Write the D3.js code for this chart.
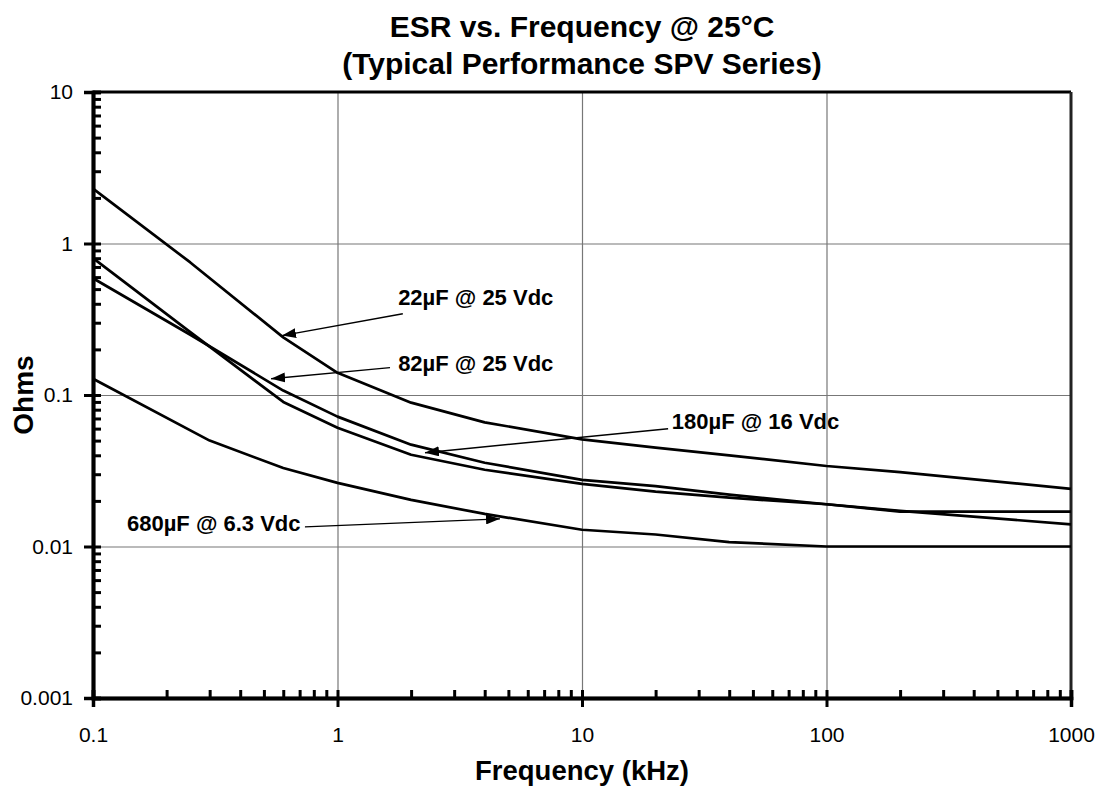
<!DOCTYPE html>
<html>
<head>
<meta charset="utf-8">
<script src="https://cdn.jsdelivr.net/npm/d3@7"></script>
<style>
  body { margin: 0; background: #fff; }
  text { font-family: "Liberation Sans", Arial, sans-serif; }
</style>
</head>
<body>
<script>
// frequency points (kHz)
var freqs = [0.1, 0.25, 0.6, 1, 2, 4, 10, 20, 40, 100, 200, 1000];
var esr22 = [2.3, 0.75, 0.24, 0.14, 0.089, 0.066, 0.051, 0.045, 0.040, 0.034, 0.031, 0.024];
var esr82 = [0.59, 0.25, 0.107, 0.072, 0.047, 0.0357, 0.0275, 0.025, 0.022, 0.019, 0.0172, 0.014];
var esr180 = [0.80, 0.26, 0.090, 0.0608, 0.0403, 0.0321, 0.0259, 0.023, 0.021, 0.019, 0.017, 0.017];
var freqs680 = [0.1, 0.3, 0.6, 1, 2, 4, 10, 20, 40, 100, 1000];
var esr680 = [0.128, 0.05, 0.033, 0.0263, 0.0203, 0.0164, 0.0129, 0.012, 0.0107, 0.010, 0.010];

var xTicks = [0.1, 1, 10, 100, 1000];
var yTicks = [0.001, 0.01, 0.1, 1, 10];

// callouts: label anchor + arrow from -> to (data units)
var labels = ["22µF @ 25 Vdc", "82µF @ 25 Vdc", "180µF @ 16 Vdc", "680µF @ 6.3 Vdc"];
var labelAt = [[1.77, 0.395], [1.77, 0.1447], [23.3, 0.0599], [0.1377, 0.01268]];
var arrowFrom = [[1.85, 0.344], [1.64, 0.1515], [22.5, 0.0599], [0.736, 0.01348]];
var arrowTo = [[0.593, 0.2466], [0.535, 0.128], [2.28, 0.0416], [4.62, 0.01522]];

var width = 1101, height = 789;
var margin = {top: 92, right: 30, bottom: 91, left: 93};

var svg = d3.select("body").append("svg")
    .attr("width", width)
    .attr("height", height);

var x = d3.scaleLog().domain([0.1, 1000]).range([margin.left, width - margin.right]);
var y = d3.scaleLog().domain([0.001, 10]).range([height - margin.bottom, margin.top]);

function minors(domain) {
    var out = [];
    for (var d = domain[0]; d < domain[1] * 0.999; d *= 10) {
        for (var k = 2; k <= 9; k++) out.push(d * k);
    }
    return out;
}

// grid
svg.append("g")
    .attr("transform", "translate(0," + (height - margin.bottom) + ")")
    .call(d3.axisBottom(x).tickValues(xTicks.slice(1, -1)).tickSize(-(height - margin.top - margin.bottom)).tickFormat(""))
    .call(function (g) { g.select(".domain").remove(); })
    .selectAll("line").attr("stroke", "#777").attr("stroke-width", 1.2);
svg.append("g")
    .attr("transform", "translate(" + margin.left + ",0)")
    .call(d3.axisLeft(y).tickValues(yTicks.slice(1, -1)).tickSize(-(width - margin.left - margin.right)).tickFormat(""))
    .call(function (g) { g.select(".domain").remove(); })
    .selectAll("line").attr("stroke", "#777").attr("stroke-width", 1.2);

// frame top / right
svg.append("line")
    .attr("x1", x(0.1)).attr("x2", x(1000)).attr("y1", y(10)).attr("y2", y(10))
    .attr("stroke", "#000").attr("stroke-width", 3);
svg.append("line")
    .attr("x1", x(1000)).attr("x2", x(1000)).attr("y1", y(10)).attr("y2", y(0.001))
    .attr("stroke", "#222").attr("stroke-width", 3);

// series
var line = d3.line()
    .x(function (d) { return x(d[0]); })
    .y(function (d) { return y(d[1]); });

var series = [
    d3.zip(freqs, esr22),
    d3.zip(freqs, esr82),
    d3.zip(freqs, esr180),
    d3.zip(freqs680, esr680)
];

svg.selectAll(".series")
    .data(series)
    .enter().append("path")
    .attr("class", "series")
    .attr("d", line)
    .attr("fill", "none")
    .attr("stroke", "#000")
    .attr("stroke-width", 2.7)
    .attr("stroke-linejoin", "round");

// axes
var xAxis = svg.append("g")
    .attr("transform", "translate(0," + (height - margin.bottom) + ")");
xAxis.call(d3.axisBottom(x).tickValues(minors(x.domain())).tickSize(-8).tickFormat(""));
xAxis.append("g").call(d3.axisBottom(x).tickValues(xTicks).tickSize(-8).tickFormat(""));
xAxis.append("g").call(d3.axisBottom(x).tickValues(xTicks).tickSize(9).tickPadding(20)
    .tickFormat(function (d) { return String(d); }));
xAxis.selectAll(".domain").attr("stroke", "#000").attr("stroke-width", 3.5);
xAxis.selectAll(".tick line").attr("stroke", "#000").attr("stroke-width", 3);
xAxis.selectAll("text").attr("font-size", 21).attr("fill", "#000");

var yAxis = svg.append("g")
    .attr("transform", "translate(" + margin.left + ",0)");
yAxis.call(d3.axisLeft(y).tickValues(minors(y.domain())).tickSize(-8).tickFormat(""));
yAxis.append("g").call(d3.axisLeft(y).tickValues(yTicks).tickSize(-8).tickFormat(""));
yAxis.append("g").call(d3.axisLeft(y).tickValues(yTicks).tickSize(9).tickPadding(11)
    .tickFormat(function (d) { return String(d); }));
yAxis.selectAll(".domain").attr("stroke", "#000").attr("stroke-width", 3.5);
yAxis.selectAll(".tick line").attr("stroke", "#000").attr("stroke-width", 3);
yAxis.selectAll("text").attr("font-size", 21).attr("fill", "#000");

// arrows
svg.append("defs").append("marker")
    .attr("id", "head")
    .attr("viewBox", "0 0 14 10")
    .attr("refX", 14).attr("refY", 5)
    .attr("markerUnits", "userSpaceOnUse")
    .attr("markerWidth", 14).attr("markerHeight", 10)
    .attr("orient", "auto")
    .append("path").attr("d", "M0,0L14,5L0,10Z").attr("fill", "#000");

svg.selectAll(".arrow")
    .data(d3.range(labels.length))
    .enter().append("line")
    .attr("class", "arrow")
    .attr("x1", function (i) { return x(arrowFrom[i][0]); })
    .attr("y1", function (i) { return y(arrowFrom[i][1]); })
    .attr("x2", function (i) { return x(arrowTo[i][0]); })
    .attr("y2", function (i) { return y(arrowTo[i][1]); })
    .attr("stroke", "#000")
    .attr("stroke-width", 1.4)
    .attr("marker-end", "url(#head)");

svg.selectAll(".callout")
    .data(d3.range(labels.length))
    .enter().append("text")
    .attr("class", "callout")
    .attr("x", function (i) { return x(labelAt[i][0]); })
    .attr("y", function (i) { return y(labelAt[i][1]); })
    .attr("font-size", 22)
    .attr("font-weight", "bold")
    .text(function (i) { return labels[i]; });

// titles
var cx = (x(0.1) + x(1000)) / 2;
svg.append("text")
    .attr("x", cx).attr("y", 37)
    .attr("text-anchor", "middle")
    .attr("font-size", 30).attr("font-weight", "bold")
    .text("ESR vs. Frequency @ 25°C");
svg.append("text")
    .attr("x", cx).attr("y", 74)
    .attr("text-anchor", "middle")
    .attr("font-size", 30).attr("font-weight", "bold")
    .text("(Typical Performance SPV Series)");
svg.append("text")
    .attr("x", cx).attr("y", 780)
    .attr("text-anchor", "middle")
    .attr("font-size", 27.5).attr("font-weight", "bold")
    .text("Frequency (kHz)");
svg.append("text")
    .attr("transform", "translate(33," + y(0.1) + ") rotate(-90)")
    .attr("text-anchor", "middle")
    .attr("font-size", 28).attr("font-weight", "bold")
    .text("Ohms");
</script>
</body>
</html>
